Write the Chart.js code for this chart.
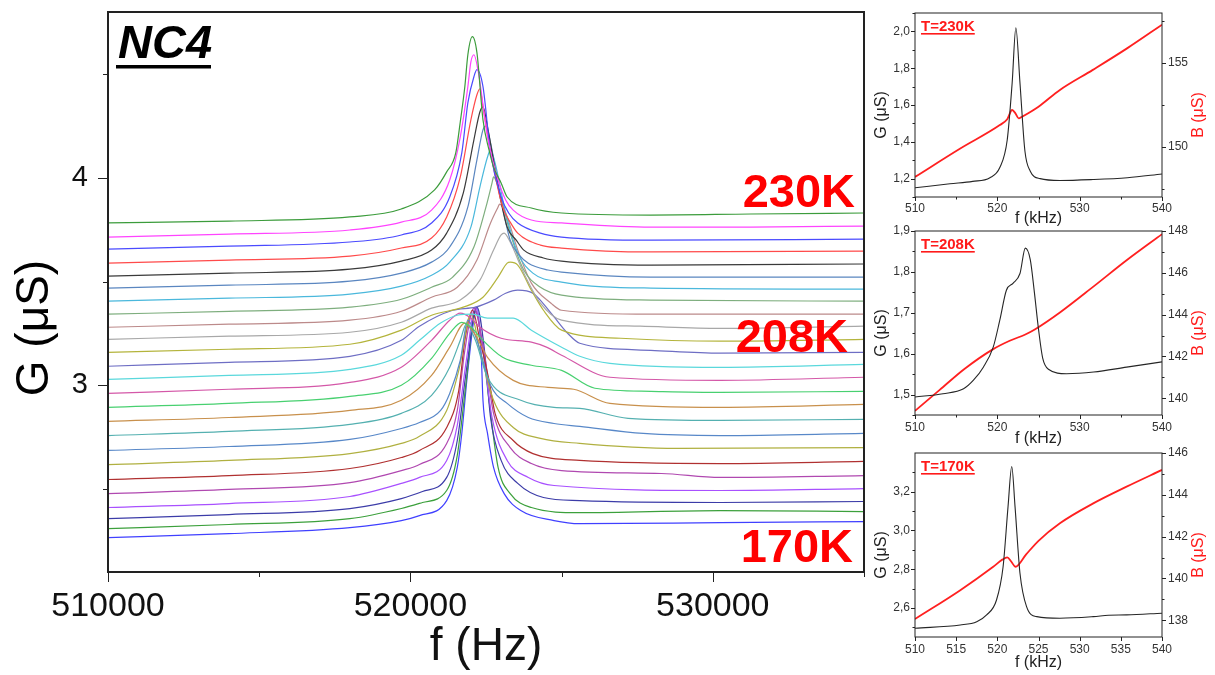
<!DOCTYPE html>
<html>
<head>
<meta charset="utf-8">
<script src="https://cdn.jsdelivr.net/npm/chart.js@4"></script>
<style>
  html, body { margin: 0; padding: 0; background: #fff; }
  body { width: 1215px; height: 675px; position: relative; overflow: hidden; }
  canvas { position: absolute; }
</style>
</head>
<body>
<canvas id="main" width="872" height="675" style="left:0;top:0"></canvas>
<canvas id="t230" width="355" height="228" style="left:860px;top:0"></canvas>
<canvas id="t208" width="355" height="226" style="left:860px;top:222px"></canvas>
<canvas id="t170" width="355" height="231" style="left:860px;top:444px"></canvas>
<script>
const FONT = "'Liberation Sans', Arial, Helvetica, sans-serif";
Chart.defaults.font.family = FONT;
Chart.defaults.color = '#111';

// --- Main panel: G (µS) vs f (kHz), traces from top (230K) to bottom (170K) ---
const c01 = [[510,3.783],[514,3.792],[518,3.812],[519.7,3.850],[520.8,3.942],[521.2,4.029],[521.5,4.121],[521.65,4.271],[521.8,4.440],[521.9,4.594],[522.05,4.681],[522.2,4.604],[522.4,4.280],[522.6,4.135],[522.75,4.053],[523.0,3.976],[523.2,3.908],[524.0,3.855],[525.0,3.831],[527.95,3.821],[531.25,3.826],[535,3.831]];
const c02 = [[510,3.715],[514,3.729],[518,3.749],[519.7,3.787],[520.7,3.845],[521.3,3.990],[521.65,4.198],[521.9,4.440],[522.0,4.560],[522.1,4.594],[522.25,4.507],[522.55,4.198],[522.9,3.990],[523.15,3.894],[523.4,3.845],[524.0,3.797],[525.0,3.783],[527.95,3.763],[531.25,3.763],[535,3.768]];
const c03 = [[510,3.657],[514,3.671],[518,3.691],[519.7,3.725],[520.7,3.783],[521.3,3.908],[521.7,4.121],[521.9,4.362],[522.1,4.488],[522.2,4.522],[522.4,4.440],[522.65,4.121],[523.0,3.908],[523.25,3.831],[523.55,3.783],[524.3,3.734],[525.0,3.715],[527.95,3.700],[535,3.705]];
const c04 = [[510,3.589],[514,3.604],[518,3.623],[519.7,3.662],[520.7,3.710],[521.2,3.812],[521.65,4.005],[522.0,4.280],[522.2,4.401],[522.3,4.430],[522.4,4.343],[522.7,4.087],[523.05,3.860],[523.3,3.787],[523.55,3.734],[524.3,3.676],[525.0,3.662],[527.95,3.643],[535,3.647]];
const c05 = [[510,3.527],[514,3.541],[518,3.560],[519.7,3.599],[520.7,3.652],[521.2,3.734],[521.75,3.928],[522.1,4.184],[522.3,4.319],[522.4,4.343],[522.55,4.246],[522.9,3.957],[523.2,3.763],[523.5,3.700],[523.75,3.652],[524.4,3.614],[525.0,3.599],[527.95,3.580],[535,3.585]];
const c06 = [[510,3.469],[514,3.483],[518,3.502],[519.7,3.541],[520.7,3.594],[521.3,3.667],[521.9,3.860],[522.2,4.087],[522.4,4.232],[522.5,4.251],[522.65,4.169],[523.0,3.894],[523.3,3.700],[523.6,3.628],[523.9,3.589],[524.55,3.556],[525.0,3.546],[527.95,3.522],[535,3.522]];
const c07 = [[510,3.406],[514,3.420],[518,3.440],[519.7,3.478],[520.7,3.531],[521.3,3.594],[522.0,3.763],[522.3,3.957],[522.55,4.101],[522.65,4.135],[522.8,4.072],[523.15,3.831],[523.55,3.638],[524.05,3.541],[525.0,3.498],[527.95,3.469],[535,3.464]];
const c08 = [[510,3.343],[514,3.357],[518,3.377],[519.7,3.415],[520.7,3.473],[521.4,3.522],[522.1,3.667],[522.5,3.860],[522.7,3.976],[522.75,4.005],[522.9,3.957],[523.3,3.734],[523.75,3.556],[524.3,3.473],[525.0,3.435],[527.95,3.411],[535,3.406]];
const c09 = [[510,3.280],[514,3.295],[518,3.314],[519.7,3.357],[520.7,3.425],[521.55,3.473],[522.2,3.604],[522.65,3.783],[522.9,3.860],[522.95,3.874],[523.15,3.831],[523.55,3.652],[524.0,3.493],[524.65,3.396],[525.0,3.362],[527.95,3.343],[535,3.343]];
const c10 = [[510,3.222],[514,3.237],[518,3.256],[519.7,3.304],[520.7,3.372],[521.65,3.411],[522.3,3.507],[522.75,3.652],[523.0,3.725],[523.1,3.734],[523.3,3.691],[523.75,3.541],[524.3,3.396],[525.0,3.314],[527.6,3.285],[530.25,3.275],[535,3.285]];
const c11 = [[510,3.159],[514,3.174],[518,3.198],[519.7,3.266],[520.7,3.338],[521.75,3.377],[522.4,3.425],[522.9,3.522],[523.2,3.589],[523.3,3.594],[523.55,3.580],[524.0,3.459],[524.4,3.362],[525.0,3.266],[526.95,3.227],[530.25,3.213],[535,3.222]];
const c12 = [[510,3.092],[514,3.111],[518,3.140],[519.7,3.217],[520.3,3.285],[521.4,3.362],[522.15,3.377],[522.75,3.411],[523.15,3.444],[523.55,3.459],[524.05,3.444],[524.65,3.348],[525.2,3.251],[525.6,3.203],[527.95,3.169],[530.25,3.155],[535,3.159]];
const c13 = [[510,3.029],[514,3.048],[518,3.077],[519.7,3.145],[520.3,3.217],[521.0,3.300],[521.55,3.338],[522.05,3.343],[522.55,3.324],[523.4,3.324],[524.0,3.266],[525.0,3.184],[525.6,3.140],[526.6,3.106],[530.25,3.087],[535,3.101]];
const c14 = [[510,2.961],[514,2.981],[518,3.014],[519.7,3.087],[520.7,3.217],[521.3,3.314],[521.65,3.348],[522.0,3.324],[522.3,3.280],[523.0,3.227],[524.0,3.208],[524.5,3.184],[525.0,3.145],[526.6,3.039],[530.25,3.024],[535,3.039]];
const c15 = [[510,2.894],[514,2.913],[518,2.947],[519.7,3.000],[520.7,3.130],[521.3,3.251],[521.7,3.304],[522.05,3.275],[522.3,3.232],[523.05,3.135],[524.0,3.097],[525.0,3.072],[526.1,2.986],[527.95,2.971],[530.25,2.966],[535,2.971]];
const c16 = [[510,2.826],[514,2.845],[518,2.879],[519.7,2.928],[520.7,3.048],[521.3,3.184],[521.8,3.300],[522.15,3.242],[522.55,3.135],[523.4,3.024],[524.55,2.990],[525.4,2.981],[526.6,2.913],[530.25,2.894],[535,2.908]];
const c17 = [[510,2.758],[514,2.778],[518,2.812],[519.7,2.865],[520.7,2.952],[521.3,3.087],[521.65,3.217],[521.85,3.295],[522.15,3.217],[522.55,3.039],[523.65,2.928],[524.75,2.894],[525.6,2.889],[527.2,2.841],[530.25,2.831],[535,2.836]];
const c18 = [[510,2.686],[514,2.705],[518,2.739],[519.7,2.792],[520.3,2.821],[521.0,2.879],[521.3,2.961],[521.65,3.121],[521.9,3.314],[522.2,3.217],[522.65,3.000],[523.2,2.913],[523.9,2.845],[524.75,2.816],[525.6,2.802],[527.7,2.768],[530.25,2.758],[535,2.768]];
const c19 = [[510,2.618],[514,2.638],[518,2.671],[519.7,2.720],[520.3,2.754],[521.2,2.879],[521.6,3.072],[522.0,3.343],[522.3,3.169],[522.75,2.928],[523.4,2.797],[524.3,2.744],[525.6,2.720],[528.85,2.696],[535,2.700]];
const c20 = [[510,2.546],[514,2.565],[518,2.599],[519.7,2.652],[520.3,2.686],[521.2,2.797],[521.6,2.976],[521.8,3.217],[522.05,3.362],[522.3,3.217],[522.6,3.024],[522.8,2.865],[523.4,2.734],[524.05,2.671],[525.6,2.638],[530.25,2.623],[535,2.633]];
const c21 = [[510,2.478],[514,2.498],[518,2.531],[519.7,2.589],[520.3,2.618],[521.2,2.720],[521.55,2.879],[521.8,3.169],[522.1,3.372],[522.4,3.193],[522.75,2.865],[523.3,2.700],[524.0,2.623],[525.0,2.589],[528.3,2.575],[530.25,2.556],[535,2.565]];
const c22 = [[510,2.411],[514,2.430],[518,2.464],[519.7,2.527],[520.3,2.556],[521.2,2.638],[521.55,2.807],[521.85,3.121],[522.15,3.377],[522.4,3.169],[522.7,2.845],[523.2,2.638],[523.9,2.556],[524.75,2.517],[530.25,2.493],[535,2.502]];
const c23 = [[510,2.357],[514,2.377],[518,2.406],[519.7,2.454],[520.4,2.488],[521.2,2.556],[521.55,2.734],[521.85,3.072],[522.2,3.377],[522.45,3.169],[522.65,2.845],[523.0,2.638],[523.55,2.527],[524.4,2.459],[525.6,2.444],[530.25,2.435],[535,2.440]];
const c24 = [[510,2.309],[514,2.329],[518,2.357],[519.7,2.406],[520.4,2.435],[521.2,2.493],[521.55,2.662],[521.85,3.024],[522.15,3.362],[522.4,3.169],[522.6,2.928],[522.9,2.604],[523.3,2.478],[524.0,2.411],[525.6,2.386],[530.25,2.396],[535,2.391]];
const c25 = [[510,2.266],[514,2.285],[518,2.314],[519.7,2.348],[520.3,2.372],[521.2,2.444],[521.55,2.604],[521.7,2.768],[521.9,3.072],[522.2,3.372],[522.35,3.121],[522.4,2.928],[522.55,2.768],[522.75,2.604],[523.1,2.478],[523.65,2.396],[524.75,2.348],[525.6,2.333],[530.25,2.338],[535,2.343]];

const traces = [c01, c02, c03, c04, c05, c06, c07, c08, c09, c10, c11, c12, c13,
                c14, c15, c16, c17, c18, c19, c20, c21, c22, c23, c24, c25];
const traceColors = [
  '#3c9c3c', '#ff44ff', '#4a4aff', '#ff4a4a', '#3a3a3a', '#5a86c0', '#4ab8dc',
  '#7eae7e', '#bc8a8a', '#a8a8a8', '#b4b43c', '#6e6ec4', '#5ad8dc', '#d458a8',
  '#48d070', '#c8904c', '#54b0b0', '#5888c8', '#b0b040', '#b03030', '#b048b0',
  '#a850ff', '#3c3ca8', '#3ca03c', '#4040ff'
];
const tempLabels = ['230K', '208K', '170K'];

// --- Insets: G (left axis, µS) and B (right axis, µS) vs f (kHz) ---
const g230 = [[510,1.150],[514.25,1.172],[517,1.185],[519.1,1.205],[520.3,1.26],[521.2,1.41],[521.8,1.72],[522.25,2.02],[522.75,1.72],[523.35,1.35],[524.0,1.24],[525.2,1.20],[527.6,1.19],[531.6,1.195],[535.8,1.205],[540,1.225]];
const b230 = [[510,148.2],[515.5,149.9],[520.3,151.3],[521.2,151.65],[521.8,152.2],[522.2,152.0],[522.6,151.7],[523.0,151.8],[525.0,152.4],[527.6,153.4],[531.6,154.6],[535.8,155.9],[540,157.3]];
const g208 = [[510,1.494],[513.4,1.502],[515.9,1.514],[517.1,1.535],[518.3,1.567],[519.5,1.616],[520.3,1.682],[521.1,1.755],[521.9,1.772],[522.75,1.796],[523.4,1.858],[524.0,1.83],[524.5,1.75],[525.0,1.66],[525.5,1.59],[526.2,1.562],[528.4,1.551],[531.7,1.555],[535.7,1.567],[540,1.580]];
const b208 = [[510,139.4],[513,140.4],[516,141.4],[519.5,142.35],[521.5,142.75],[523.4,143.05],[524.6,143.3],[527.6,144.1],[531.7,145.35],[535.7,146.6],[540,147.85]];
const g170 = [[510,2.495],[515.5,2.512],[517.5,2.529],[518.7,2.564],[519.9,2.641],[520.7,2.813],[521.3,3.123],[521.75,3.33],[522.15,3.123],[522.75,2.779],[523.55,2.607],[524.8,2.555],[527.6,2.547],[531.65,2.555],[533.5,2.562],[535.7,2.564],[540,2.573]];
const b170 = [[510,138.06],[515.5,139.44],[519.5,140.56],[520.6,140.9],[521.2,141.01],[521.7,140.8],[522.2,140.56],[523.5,141.15],[525.0,141.8],[527.6,142.64],[531.65,143.59],[535.7,144.39],[540,145.19]];

// --- Helpers ---
function toXY(pairs, k) {
  return pairs.map(([f, v]) => ({ x: f * k, y: v }));
}

function isMultiple(v, step) {
  const r = v / step;
  return Math.abs(r - Math.round(r)) < 1e-6;
}

// fixed axis box size, and no extra room kept for the edge labels
function fixSize(key, size) {
  return s => {
    s[key] = size;
    s.paddingTop = s.paddingBottom = s.paddingLeft = s.paddingRight = 0;
  };
}

// frame round the plot area plus outward ticks (long on labelled ticks, short on the rest)
function frameTicks(major, minor, frameWidth) {
  return {
    id: 'frameTicks',
    afterDraw(chart) {
      const { ctx, chartArea: a } = chart;
      ctx.save();
      ctx.strokeStyle = '#222';
      ctx.lineWidth = 1;
      Object.values(chart.scales).forEach(s => {
        s.ticks.forEach(t => {
          const len = t.label ? major : minor;
          const p = Math.round(s.getPixelForValue(t.value)) + 0.5;
          ctx.beginPath();
          if (s.position === 'bottom') { ctx.moveTo(p, a.bottom); ctx.lineTo(p, a.bottom + len); }
          else if (s.position === 'left') { ctx.moveTo(a.left - len, p); ctx.lineTo(a.left, p); }
          else { ctx.moveTo(a.right, p); ctx.lineTo(a.right + len, p); }
          ctx.stroke();
        });
      });
      ctx.lineWidth = frameWidth;
      ctx.strokeRect(a.left, a.top, a.right - a.left, a.bottom - a.top);
      ctx.restore();
    }
  };
}

// --- Main chart ---
const mainNotes = {
  id: 'mainNotes',
  afterDraw(chart) {
    const { ctx, chartArea: a } = chart;
    ctx.save();
    ctx.fillStyle = '#000';
    ctx.font = `italic bold 47px ${FONT}`;
    ctx.textBaseline = 'alphabetic';
    ctx.fillText('NC4', a.left + 10, a.top + 46);
    ctx.fillRect(a.left + 8, a.top + 53, 95, 3.5);

    ctx.fillStyle = '#ff0000';
    ctx.font = `bold 47px ${FONT}`;
    ctx.textAlign = 'right';
    ctx.fillText(tempLabels[0], a.right - 9, 207);
    ctx.fillText(tempLabels[1], a.right - 16, 352);
    ctx.fillText(tempLabels[2], a.right - 11, 562);

    ctx.translate(35, 328);
    ctx.rotate(-Math.PI / 2);
    ctx.fillStyle = '#000';
    ctx.font = `46px ${FONT}`;
    ctx.textAlign = 'center';
    ctx.textBaseline = 'middle';
    ctx.fillText('G (μS)', 0, 0);
    ctx.restore();
  }
};

new Chart(document.getElementById('main').getContext('2d'), {
  type: 'line',
  data: {
    datasets: traces.map((tr, i) => ({
      data: toXY(tr, 1000),
      borderColor: traceColors[i],
      borderWidth: 1.2,
      pointRadius: 0,
      fill: false,
      cubicInterpolationMode: 'monotone'
    }))
  },
  options: {
    responsive: false,
    animation: false,
    devicePixelRatio: 1,
    layout: { padding: { top: 12, right: 8, left: 0, bottom: 0 } },
    plugins: { legend: { display: false }, tooltip: { enabled: false } },
    scales: {
      x: {
        type: 'linear',
        min: 510000,
        max: 535000,
        afterFit: fixSize('height', 103),
        grid: { display: false, drawTicks: false },
        border: { display: false },
        ticks: {
          stepSize: 5000,
          autoSkip: false,
          includeBounds: false,
          maxRotation: 0,
          minRotation: 0,
          padding: 14,
          color: '#111',
          font: { size: 34 },
          callback: v => isMultiple(v, 10000) ? String(Math.round(v)) : ''
        },
        title: { display: true, text: 'f (Hz)', color: '#111', font: { size: 46 }, padding: { top: 0, bottom: 0 } }
      },
      y: {
        min: 2.1,
        max: 4.8,
        afterFit: fixSize('width', 108),
        grid: { display: false, drawTicks: false },
        border: { display: false },
        ticks: {
          stepSize: 0.5,
          autoSkip: false,
          includeBounds: false,
          padding: 20,
          color: '#111',
          font: { size: 29 },
          callback: v => isMultiple(v, 1) ? String(Math.round(v)) : ''
        }
      }
    }
  },
  plugins: [frameTicks(10, 5, 2), mainNotes]
});

// --- Inset charts ---
function insetNotes(label) {
  return {
    id: 'insetNotes',
    afterDraw(chart) {
      const { ctx, chartArea: a } = chart;
      const cy = (a.top + a.bottom) / 2 + 10;
      ctx.save();
      ctx.fillStyle = '#ff1a1a';
      ctx.font = `bold 15px ${FONT}`;
      ctx.textBaseline = 'alphabetic';
      ctx.fillText(label, a.left + 6, a.top + 18);
      ctx.fillRect(a.left + 6, a.top + 20, ctx.measureText(label).width, 1.6);

      ctx.font = `16px ${FONT}`;
      ctx.textAlign = 'center';
      ctx.textBaseline = 'middle';
      ctx.save();
      ctx.translate(22, cy);
      ctx.rotate(-Math.PI / 2);
      ctx.fillStyle = '#222';
      ctx.fillText('G (μS)', 0, 0);
      ctx.restore();
      ctx.translate(339, cy);
      ctx.rotate(-Math.PI / 2);
      ctx.fillStyle = '#ff1a1a';
      ctx.fillText('B (μS)', 0, 0);
      ctx.restore();
    }
  };
}

function insetChart(o) {
  const tickFont = { size: 12 };
  return new Chart(document.getElementById(o.id).getContext('2d'), {
    type: 'line',
    data: {
      datasets: [
        { data: toXY(o.g, 1), yAxisID: 'y', borderColor: '#262626', borderWidth: 1.1,
          pointRadius: 0, cubicInterpolationMode: 'monotone' },
        { data: toXY(o.b, 1), yAxisID: 'y2', borderColor: '#ff2020', borderWidth: 1.8,
          pointRadius: 0, cubicInterpolationMode: 'monotone' }
      ]
    },
    options: {
      responsive: false,
      animation: false,
      devicePixelRatio: 1,
      layout: { padding: { top: o.padTop, right: 0, left: 0, bottom: 0 } },
      plugins: { legend: { display: false }, tooltip: { enabled: false } },
      scales: {
        x: {
          type: 'linear',
          min: 510,
          max: 540,
          afterFit: fixSize('height', o.xHeight),
          grid: { display: false, drawTicks: false },
          border: { display: false },
          ticks: {
            stepSize: 5, autoSkip: false, includeBounds: false, maxRotation: 0, minRotation: 0,
            padding: o.xPad, color: '#333', font: tickFont,
            callback: v => isMultiple(v, o.xMajor) ? String(Math.round(v)) : ''
          },
          title: { display: true, text: 'f (kHz)', color: '#222', font: { size: 16 },
                   padding: { top: 0, bottom: o.titlePad } }
        },
        y: {
          position: 'left',
          min: o.gMin, max: o.gMax,
          afterFit: fixSize('width', 55),
          grid: { display: false, drawTicks: false },
          border: { display: false },
          ticks: {
            stepSize: o.gStep, autoSkip: false, includeBounds: false, padding: 5,
            color: '#333', font: tickFont,
            callback: v => isMultiple(v, o.gMajor) ? v.toFixed(1).replace('.', ',') : ''
          }
        },
        y2: {
          position: 'right',
          min: o.bMin, max: o.bMax,
          afterFit: fixSize('width', 53),
          grid: { display: false, drawTicks: false },
          border: { display: false },
          ticks: {
            stepSize: o.bStep, autoSkip: false, includeBounds: false, padding: 6,
            color: '#333', font: tickFont,
            callback: v => isMultiple(v, o.bMajor) ? String(Math.round(v)) : ''
          }
        }
      }
    },
    plugins: [frameTicks(4, 2.5, 1), insetNotes(o.label)]
  });
}

insetChart({ id: 't230', g: g230, b: b230, label: 'T=230K', padTop: 13, xHeight: 31, xPad: 4, titlePad: 0,
             xMajor: 10, gMin: 1.1, gMax: 2.1, gStep: 0.1, gMajor: 0.2, bMin: 147, bMax: 158, bStep: 2.5, bMajor: 5 });
insetChart({ id: 't208', g: g208, b: b208, label: 'T=208K', padTop: 9, xHeight: 33, xPad: 5, titlePad: 0,
             xMajor: 10, gMin: 1.45, gMax: 1.9, gStep: 0.05, gMajor: 0.1, bMin: 139.2, bMax: 148, bStep: 1, bMajor: 2 });
insetChart({ id: 't170', g: g170, b: b170, label: 'T=170K', padTop: 9, xHeight: 38, xPad: 5, titlePad: 3,
             xMajor: 5, gMin: 2.45, gMax: 3.4, gStep: 0.1, gMajor: 0.2, bMin: 137.2, bMax: 146, bStep: 1, bMajor: 2 });
</script>
</body>
</html>
